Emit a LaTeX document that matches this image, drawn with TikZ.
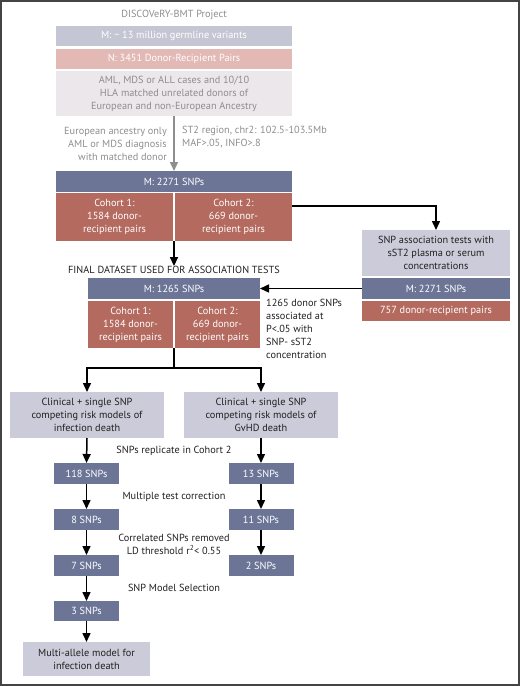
\documentclass[tikz,border=0pt]{standalone}
\usepackage{fontspec}
\setmainfont{PT Sans}
\usetikzlibrary{arrows.meta,calc}
\definecolor{lav}{HTML}{C5C6D4}
\definecolor{pinkb}{HTML}{E2B9B5}
\definecolor{pale}{HTML}{ECE7EB}
\definecolor{slate}{HTML}{6C7596}
\definecolor{terra}{HTML}{B46A5F}
\definecolor{lavb}{HTML}{CCCBD9}
\definecolor{graytxt}{HTML}{8E8E8E}
\definecolor{frame}{HTML}{444444}
\definecolor{darktxt}{HTML}{231F20}
\tikzset{
  box/.style={inner sep=0pt, outer sep=0pt, align=center, font=\fontsize{10.3}{13}\selectfont},
  boxlav/.style={box, fill=lav, text=white},
  boxpink/.style={box, fill=pinkb, text=white},
  boxpale/.style={box, fill=pale, text=graytxt},
  boxslate/.style={box, fill=slate, text=white},
  boxterra/.style={box, fill=terra, text=white},
  boxlight/.style={box, fill=lavb, text=darktxt},
  lbl/.style={inner sep=0pt, font=\fontsize{10.3}{13}\selectfont, text=darktxt},
  glbl/.style={lbl, text=graytxt},
  arr/.style={-{Triangle[length=9pt,width=8pt]}, line width=1.5pt, black},
  garr/.style={-{Triangle[length=9pt,width=8pt]}, line width=1.5pt, graytxt},
  ln/.style={line width=1.5pt, black}
}
\begin{document}
\begin{tikzpicture}[x=1pt,y=-1pt]
\useasboundingbox (0,0) rectangle (520,686);
\draw[frame, line width=1.6pt] (0.8,0.8) rectangle (519.2,685.2);

% top section
\node[glbl] (title) at (174,15) {DISCOVeRY-BMT Project};
\node[boxlav, minimum width=236pt, minimum height=20pt] (top1) at (174,36) {M: \textasciitilde{} 13 million germline variants};
\node[boxpink, minimum width=236pt, minimum height=20pt] (top2) at (174,59) {N: 3451 Donor-Recipient Pairs};
\node[boxpale, minimum width=236pt, minimum height=45pt] (top3) at (174,93.5) {AML, MDS or ALL cases and 10/10\\HLA matched unrelated donors of\\European and non-European Ancestry};
\node[glbl, anchor=east, align=right] (lblL) at (167,143.5) {European ancestry only\\AML or MDS diagnosis\\with matched donor};
\node[glbl, anchor=west, align=left] (lblR) at (182,137) {ST2 region, chr2: 102.5-103.5Mb\\MAF>.05, INFO>.8};

\node[boxslate, minimum width=236pt, minimum height=21pt] (m2271) at (174,181.5) {M: 2271 SNPs};
\node[boxterra, minimum width=117pt, minimum height=48pt] (c1a) at (114.5,217) {Cohort 1:\\1584 donor-\\recipient pairs};
\node[boxterra, minimum width=117pt, minimum height=48pt] (c2a) at (233.5,217) {Cohort 2:\\669 donor-\\recipient pairs};

% right branch
\node[boxlight, minimum width=148pt, minimum height=46pt] (sst2) at (436,253) {SNP association tests with\\sST2 plasma or serum\\concentrations};
\node[boxslate, minimum width=148pt, minimum height=21pt] (m2271b) at (436,288.5) {M: 2271 SNPs};
\node[boxterra, minimum width=148pt, minimum height=20pt] (n757) at (436,311) {757 donor-recipient pairs};

% final dataset
\node[lbl] (final) at (174,270) {FINAL DATASET USED FOR ASSOCIATION TESTS};
\node[boxslate, minimum width=172pt, minimum height=21pt] (m1265) at (174,288.5) {M: 1265 SNPs};
\node[boxterra, minimum width=85pt, minimum height=47pt] (c1b) at (130.5,324.5) {Cohort 1:\\1584 donor-\\recipient pairs};
\node[boxterra, minimum width=85pt, minimum height=47pt] (c2b) at (217.5,324.5) {Cohort 2:\\669 donor-\\recipient pairs};
\node[lbl, anchor=west, align=left] (lbl1265) at (266,329) {1265 donor SNPs\\associated at\\P<.05 with\\SNP- sST2\\concentration};

% models
\node[boxlight, minimum width=154pt, minimum height=46pt] (clinL) at (87,415) {Clinical + single SNP\\competing risk models of\\infection death};
\node[boxlight, minimum width=154pt, minimum height=46pt] (clinR) at (261,415) {Clinical + single SNP\\competing risk models of\\GvHD death};

\node[boxslate, minimum width=65pt, minimum height=21pt] (s118) at (86.5,473.5) {118 SNPs};
\node[boxslate, minimum width=65pt, minimum height=21pt] (s13) at (261,473.5) {13 SNPs};
\node[boxslate, minimum width=65pt, minimum height=21pt] (s8) at (86.5,519.5) {8 SNPs};
\node[boxslate, minimum width=65pt, minimum height=21pt] (s11) at (261,519.5) {11 SNPs};
\node[boxslate, minimum width=65pt, minimum height=21pt] (s7) at (86.5,565.5) {7 SNPs};
\node[boxslate, minimum width=65pt, minimum height=21pt] (s2) at (261,565.5) {2 SNPs};
\node[boxslate, minimum width=65pt, minimum height=20pt] (s3) at (86.5,611) {3 SNPs};
\node[boxlight, minimum width=127pt, minimum height=34pt] (multi) at (86.5,659) {Multi-allele model for\\infection death};

\node[lbl] (rep) at (174,451) {SNPs replicate in Cohort 2};
\node[lbl] (mtc) at (174,497) {Multiple test correction};
\node[lbl, align=center] (corr) at (174,544) {Correlated SNPs removed\\LD threshold r\textsuperscript{2}< 0.55};
\node[lbl] (sel) at (174,588) {SNP Model Selection};

% connectors
\draw[garr] (top3.south) -- (m2271.north);
\draw[arr] (m2271.center |- c1a.south) -- (final.north);
\draw[arr] ([yshift=11pt]c2a.east) -| (sst2.north);
\draw[arr] (m2271b.west) -- (m1265.east);
\draw[ln] (m1265.center |- c1b.south) -- ++(0,20) coordinate (split);
\draw[arr] (split) -| (clinL.north);
\draw[arr] (split) -| (clinR.north);
\draw[arr] (clinL.south) -- (s118.north);
\draw[arr] (s118.south) -- (s8.north);
\draw[arr] (s8.south) -- (s7.north);
\draw[arr] (s7.south) -- (s3.north);
\draw[arr] (s3.south) -- (multi.north);
\draw[arr] (clinR.south) -- (s13.north);
\draw[arr] (s13.south) -- (s11.north);
\draw[arr] (s11.south) -- (s2.north);
\end{tikzpicture}
\end{document}
